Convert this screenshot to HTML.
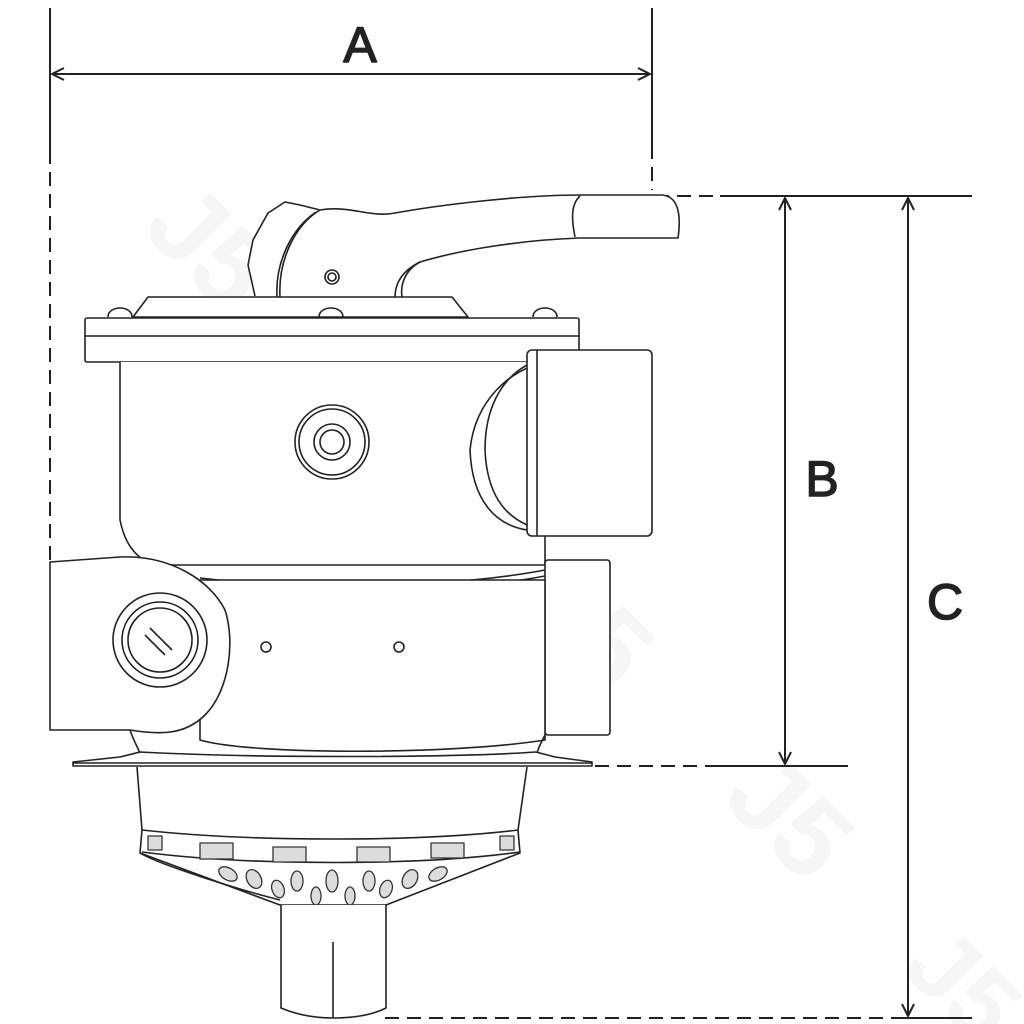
<!DOCTYPE html>
<html><head><meta charset="utf-8"><style>html,body{margin:0;padding:0;background:#fff;width:1024px;height:1024px;overflow:hidden}svg{display:block}</style></head>
<body>
<svg width="1024" height="1024" viewBox="0 0 1024 1024" xmlns="http://www.w3.org/2000/svg" fill="none" stroke="#222" stroke-width="1.6" stroke-linejoin="round">
<defs>
<marker id="ar" markerWidth="14" markerHeight="14" refX="13" refY="7" orient="auto-start-reverse" markerUnits="userSpaceOnUse">
<path d="M1,1 L13,7 L1,13" fill="none" stroke="#222" stroke-width="2"/>
</marker>
</defs>

<!-- watermark -->
<g fill="#f6f6f6" stroke="none" font-family="Liberation Sans, sans-serif" font-weight="bold">
<text x="140" y="230" font-size="110" transform="rotate(45 140 230)">J5</text>
<text x="330" y="420" font-size="110" transform="rotate(45 330 420)">J5</text>
<text x="520" y="610" font-size="110" transform="rotate(45 520 610)">J5</text>
<text x="720" y="800" font-size="110" transform="rotate(45 720 800)">J5</text>
<text x="900" y="970" font-size="100" transform="rotate(45 900 970)">J5</text>
</g>

<!-- dimension lines -->
<g stroke="#222" stroke-width="2">
<line x1="50" y1="8" x2="50" y2="150"/>
<line x1="50" y1="150" x2="50" y2="560" stroke-dasharray="14,8"/>
<line x1="652" y1="8" x2="652" y2="145"/>
<line x1="652" y1="145" x2="652" y2="190" stroke-dasharray="14,8"/>
<line x1="52" y1="74" x2="650" y2="74" marker-start="url(#ar)" marker-end="url(#ar)"/>
<line x1="655" y1="196" x2="720" y2="196" stroke-dasharray="14,8"/>
<line x1="720" y1="196" x2="972" y2="196"/>
<line x1="785" y1="198" x2="785" y2="764" marker-start="url(#ar)" marker-end="url(#ar)"/>
<line x1="908" y1="198" x2="908" y2="1016" marker-start="url(#ar)" marker-end="url(#ar)"/>
<line x1="595" y1="766" x2="715" y2="766" stroke-dasharray="14,8"/>
<line x1="715" y1="766" x2="848" y2="766"/>
<line x1="385" y1="1018" x2="900" y2="1018" stroke-dasharray="14,8"/>
<line x1="900" y1="1018" x2="972" y2="1018"/>
</g>
<g fill="#222" stroke="#222" stroke-width="1.5" font-family="Liberation Sans, sans-serif" font-size="50">
<text x="360" y="62" text-anchor="middle">A</text>
<text x="822" y="496" text-anchor="middle">B</text>
<text x="945" y="619" text-anchor="middle">C</text>
</g>

<!-- handle -->
<path d="M255,296 L248,265 L253,240 L268,213 L285,202 L300,205 L320,210 C350,205 370,218 395,213 C440,205 520,195 580,195 L662,195 C676,196 682,210 678,238 L580,238 C520,240 460,250 420,262 C400,272 395,285 395,297" fill="#fff"/>
<path d="M320,210 C295,225 278,260 280,297"/>
<path d="M316,212 C292,228 275,262 277,297"/>
<path d="M580,196 C570,205 572,222 575,237"/>
<path d="M420,262 C405,270 400,285 402,297"/>
<circle cx="332" cy="277" r="7"/><circle cx="332" cy="277" r="4"/>

<!-- cover plate & screws -->
<path d="M133,317 L148,297 L452,297 L468,317 Z" fill="#fff"/>
<path d="M108,317 C108,305 132,305 132,317"/>
<path d="M319,317 C319,305 343,305 343,317"/>
<path d="M533,317 C533,305 557,305 557,317"/>
<rect x="85" y="318" width="494" height="44" rx="2" fill="#fff"/>
<line x1="85" y1="336" x2="579" y2="336"/>

<!-- upper body -->
<path d="M120,362 L120,520 C125,545 135,555 150,565 L545,565 L545,362" fill="#fff"/>
<path d="M200,578 C300,590 450,588 545,570" />
<path d="M200,584 C300,596 450,594 545,576" />
<path d="M545,362 C510,370 475,400 470,450 C472,500 495,525 527,530" fill="#fff"/>
<path d="M527,365 C500,380 485,410 485,450 C487,495 505,515 527,525"/>
<rect x="527" y="350" width="125" height="186" rx="5" fill="#fff"/>
<line x1="537" y1="350" x2="537" y2="536"/>
<circle cx="332" cy="442" r="37" fill="#fff"/><circle cx="332" cy="442" r="33"/>
<circle cx="332" cy="442" r="18"/><circle cx="332" cy="442" r="12"/>

<!-- lower body -->
<rect x="545" y="560" width="65" height="175" rx="3" fill="#fff"/>
<path d="M200,580 L545,580 L545,740 C450,755 250,755 200,740 Z" fill="#fff"/>
<path d="M50,562 L120,557 C170,555 210,580 225,610 C235,640 230,690 205,715 C185,735 160,735 130,730 L50,730 Z" fill="#fff"/>
<circle cx="160" cy="640" r="47" fill="#fff"/>
<circle cx="160" cy="640" r="38"/><circle cx="160" cy="640" r="32"/>
<line x1="145" y1="635" x2="165" y2="655"/><line x1="150" y1="628" x2="172" y2="650"/>
<circle cx="266" cy="647" r="5"/><circle cx="399" cy="647" r="5"/>
<path d="M130,730 C135,745 140,750 140,755 M545,735 C540,745 537,750 537,756"/>

<!-- base plate -->
<path d="M73,766 L73,762 L120,757 L140,752 C250,758 450,758 536,752 L555,757 L592,762 L592,766 Z" fill="#fff"/>
<line x1="73" y1="763" x2="592" y2="763"/>

<!-- bowl -->
<path d="M137,767 L142,830 L140,853 L280,905 L386,905 L520,853 L518,830 L527,767" fill="#fff"/>
<path d="M142,830 C250,842 420,842 518,830"/>
<path d="M142,852 C250,866 420,866 520,852"/>
<path d="M140,853 C160,865 240,890 280,900"/>
<g fill="#dcdcdc" stroke="#333" stroke-width="1.3">
<rect x="148" y="836" width="14" height="14"/>
<rect x="200" y="843" width="33" height="16"/>
<rect x="273" y="847" width="33" height="15"/>
<rect x="357" y="847" width="33" height="15"/>
<rect x="431" y="843" width="33" height="15"/>
<rect x="500" y="836" width="14" height="14"/>
<ellipse cx="228" cy="874" rx="10" ry="6" transform="rotate(30 228 874)"/>
<ellipse cx="254" cy="879" rx="7" ry="10" transform="rotate(-30 254 879)"/>
<ellipse cx="278" cy="889" rx="6" ry="9" transform="rotate(-20 278 889)"/>
<ellipse cx="297" cy="881" rx="6" ry="10"/>
<ellipse cx="316" cy="896" rx="5" ry="9"/>
<ellipse cx="332" cy="881" rx="6" ry="11"/>
<ellipse cx="350" cy="896" rx="5" ry="9"/>
<ellipse cx="369" cy="881" rx="6" ry="10"/>
<ellipse cx="386" cy="889" rx="6" ry="9" transform="rotate(20 386 889)"/>
<ellipse cx="410" cy="879" rx="7" ry="10" transform="rotate(30 410 879)"/>
<ellipse cx="438" cy="874" rx="10" ry="6" transform="rotate(-30 438 874)"/>
</g>
<path d="M280,905 C320,912 350,912 386,905"/>
<path d="M281,905 L281,1008 C300,1016 320,1018 333,1018 C350,1018 370,1016 386,1008 L386,905" fill="#fff"/>
<line x1="333" y1="942" x2="333" y2="1018"/>
</svg>
</body></html>
